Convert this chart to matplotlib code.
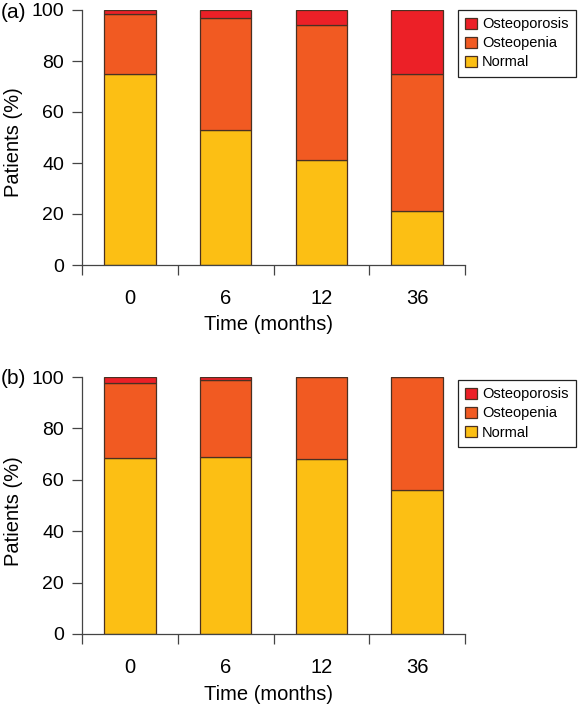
import matplotlib
matplotlib.use("Agg")
import matplotlib.pyplot as plt
import numpy as np
from matplotlib.ticker import FixedLocator, NullFormatter

plt.rcParams['font.family'] = ['Liberation Sans', 'DejaVu Sans']

categories = ['0', '6', '12', '36']
series_names = ['Osteoporosis', 'Osteopenia', 'Normal']

# Panel (a)
a_normal = [75, 53, 41, 21]
a_osteopenia = [23.5, 44, 53, 54]
a_osteoporosis = [1.5, 3, 6, 25]

# Panel (b)
b_normal = [68.5, 69, 68, 56]
b_osteopenia = [29, 30, 32, 44]
b_osteoporosis = [2.5, 1, 0, 0]

colors = {'Normal': '#FCBF14', 'Osteopenia': '#F15A22', 'Osteoporosis': '#EC2027'}
edge = '#4a3022'

W, H = 578, 708
fig = plt.figure(figsize=(W / 100, H / 100), dpi=100)

def px_axes(left, right, top, bottom):
    return fig.add_axes([left / W, 1 - bottom / H, (right - left) / W, (bottom - top) / H])

def draw(ax, normal, osteopenia, osteoporosis, legend_top):
    x = np.arange(len(categories))
    normal = np.array(normal, float)
    osteopenia = np.array(osteopenia, float)
    osteoporosis = np.array(osteoporosis, float)
    bw = 0.54
    h_n = ax.bar(x, normal, bw, color=colors['Normal'], edgecolor=edge, linewidth=0.9, label='Normal')
    h_p = ax.bar(x, osteopenia, bw, bottom=normal, color=colors['Osteopenia'], edgecolor=edge, linewidth=0.9, label='Osteopenia')
    h_o = ax.bar(x, osteoporosis, bw, bottom=normal + osteopenia, color=colors['Osteoporosis'], edgecolor=edge, linewidth=0.9, label='Osteoporosis')
    ax.set_xlim(-0.5, len(categories) - 0.5)
    ax.set_ylim(0, 100)
    ax.set_yticks([0, 20, 40, 60, 80, 100])
    ax.set_xticks(x)
    ax.set_xticklabels(categories)
    ax.xaxis.set_minor_locator(FixedLocator(np.arange(-0.5, len(categories), 1.0)))
    ax.xaxis.set_minor_formatter(NullFormatter())
    ax.tick_params(axis='x', which='major', length=0, pad=17.5, labelsize=14.5)
    ax.tick_params(axis='x', which='minor', length=7, width=0.9, color='#444444', direction='out')
    ax.tick_params(axis='y', which='major', length=7, width=0.9, color='#444444', direction='out', pad=6, labelsize=14)
    for s in ['top', 'right']:
        ax.spines[s].set_visible(False)
    for s in ['left', 'bottom']:
        ax.spines[s].set_linewidth(0.9)
        ax.spines[s].set_color('#444444')
    ax.set_ylabel('Patients (%)', fontsize=14.5)
    ax.yaxis.set_label_coords(-0.178, 0.48)
    ax.yaxis.label.set_va('center')
    ax.set_xlabel('Time (months)', fontsize=14.5)
    ax.xaxis.set_label_coords(0.486, -0.235)
    ax.xaxis.label.set_va('center')
    leg = fig.legend([h_o, h_p, h_n], series_names, loc='upper left',
                     bbox_to_anchor=(458 / W, 1 - legend_top / H), borderaxespad=0,
                     fancybox=False, edgecolor='#222222', framealpha=1,
                     fontsize=10.5, handlelength=0.8, handleheight=0.8,
                     handletextpad=0.35, labelspacing=0.35, borderpad=0.5)
    leg.get_frame().set_linewidth(0.9)
    return ax

ax1 = px_axes(82, 465, 10, 265)
draw(ax1, a_normal, a_osteopenia, a_osteoporosis, 10)
ax2 = px_axes(82, 465, 377, 634)
draw(ax2, b_normal, b_osteopenia, b_osteoporosis, 380)

fig.text(0.5 / W, 1 - 12 / H, '(a)', fontsize=15, ha='left', va='center')
fig.text(0.5 / W, 1 - 379 / H, '(b)', fontsize=15, ha='left', va='center')

fig.savefig('out.png', dpi=100)
